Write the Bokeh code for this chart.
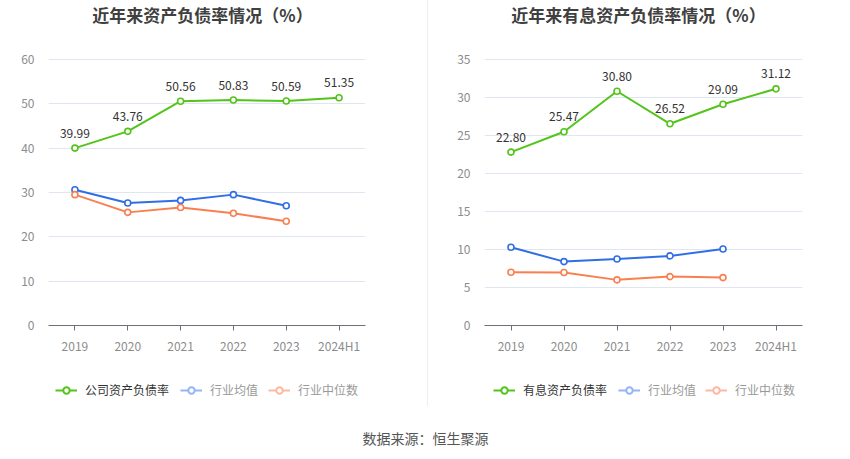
from bokeh.plotting import figure
from bokeh.models import FactorRange, Range1d, FixedTicker, Legend, LegendItem, Label
from bokeh.layouts import row, column
from bokeh.core.properties import value
from bokeh.embed import file_html
from bokeh.resources import INLINE

years = ["2019", "2020", "2021", "2022", "2023", "2024H1"]
ind_years = ["2019", "2020", "2021", "2022", "2023"]

debt_ratio = [39.99, 43.76, 50.56, 50.83, 50.59, 51.35]
debt_ind_mean = [30.6, 27.6, 28.2, 29.5, 27.0]
debt_ind_median = [29.5, 25.5, 26.6, 25.3, 23.5]

int_ratio = [22.80, 25.47, 30.80, 26.52, 29.09, 31.12]
int_ind_mean = [10.28, 8.4, 8.75, 9.15, 10.05]
int_ind_median = [7.0, 6.96, 6.0, 6.43, 6.3]

left_ticks = [0, 10, 20, 30, 40, 50, 60]
right_ticks = [0, 5, 10, 15, 20, 25, 30, 35]

left_title = "近年来资产负债率情况（%）"
right_title = "近年来有息资产负债率情况（%）"
left_series = ["公司资产负债率", "行业均值", "行业中位数"]
right_series = ["有息资产负债率", "行业均值", "行业中位数"]
source_text = "数据来源：恒生聚源"

FONT = "Noto Sans CJK SC"
GREEN = "#52c41a"
BLUE = "#2f6ee6"
ORANGE = "#fa7f50"
BLUE_L = "#93b5f6"
ORANGE_L = "#fcb8a0"
GRID = "#e0e6f1"
AXIS = "#6e7079"
TICKC = "#8c8c8c"
SEP = "#eeeeee"
NAN = float("nan")


def make_fig(title, main_vals, mean_vals, med_vals, ymax, ticks,
             border_left, border_right, styles=None):
    p = figure(width=425, height=356, x_range=FactorRange(*years, range_padding=0),
               y_range=Range1d(0, ymax * 326 / 267), output_backend="svg",
               toolbar_location=None,
               min_border_left=border_left, min_border_right=border_right,
               min_border_top=0, min_border_bottom=30)
    p.outline_line_color = None
    if styles:
        p.border_fill_color = None
        p.styles = styles
    p.xgrid.grid_line_color = None
    p.ygrid.grid_line_color = GRID
    p.ygrid.grid_line_width = 1
    p.yaxis.ticker = FixedTicker(ticks=ticks)
    p.yaxis.axis_line_color = None
    p.yaxis.major_tick_line_color = None
    p.yaxis.minor_tick_line_color = None
    p.yaxis.major_label_standoff = 8
    p.yaxis.major_label_text_color = TICKC
    p.yaxis.major_label_text_font = FONT
    p.yaxis.major_label_text_font_size = "12px"
    p.xaxis.axis_line_color = AXIS
    p.xaxis.major_tick_line_color = AXIS
    p.xaxis.major_tick_out = 5
    p.xaxis.major_tick_in = 0
    p.xaxis.minor_tick_line_color = None
    p.xaxis.major_label_standoff = 6
    p.xaxis.major_label_text_color = TICKC
    p.xaxis.major_label_text_font = FONT
    p.xaxis.major_label_text_font_size = "12px"

    p.line(ind_years, mean_vals, line_color=BLUE, line_width=2)
    p.scatter(ind_years, mean_vals, size=6, fill_color="white", line_color=BLUE, line_width=1.6)
    p.line(ind_years, med_vals, line_color=ORANGE, line_width=2)
    p.scatter(ind_years, med_vals, size=6, fill_color="white", line_color=ORANGE, line_width=1.6)
    p.line(years, main_vals, line_color=GREEN, line_width=2)
    p.scatter(years, main_vals, size=6, fill_color="white", line_color=GREEN, line_width=1.6)
    p.text(years, main_vals, text=["%.2f" % v for v in main_vals], text_align="center",
           text_baseline="middle", y_offset=-15, text_font=value(FONT),
           text_font_size="12px", text_color="#333333")

    p.add_layout(Label(x=154, y=311.5, x_units="screen", y_units="screen", text=title,
                       text_align="center", text_baseline="middle", text_font=FONT,
                       text_font_size="17px", text_font_style="bold", text_color="#404040"))
    return p


f1 = make_fig(left_title, debt_ratio, debt_ind_mean, debt_ind_median, 60, left_ticks, 48, 60)
f2 = make_fig(right_title, int_ratio, int_ind_mean, int_ind_median, 35, right_ticks, 59, 48,
              styles={"background": "linear-gradient(to right, transparent 2px, %s 2px, %s 3px, transparent 3px)" % (SEP, SEP)})

# bottom strip: legends and source
lf = figure(width=850, height=103, output_backend="svg", toolbar_location=None,
            x_range=Range1d(0, 850), y_range=Range1d(0, 103),
            min_border=0, min_border_left=0, min_border_right=0,
            min_border_top=0, min_border_bottom=0)
lf.axis.visible = False
lf.grid.visible = False
lf.outline_line_color = None
lf.border_fill_color = None
lf.background_fill_color = None
lf.styles = {"background": "linear-gradient(to right, transparent 427px, %s 427px, %s 428px, transparent 428px) top left / 100%% 50px no-repeat" % (SEP, SEP)}

legend_x = [[55, 180, 268], [493, 618, 705]]
for names, xs in zip([left_series, right_series], legend_x):
    styles = [(GREEN, "#333333"), (BLUE_L, "#999999"), (ORANGE_L, "#999999")]
    for name, (col, tc), lx in zip(names, styles, xs):
        r1 = lf.line([NAN], [NAN], line_color=col, line_width=2)
        r2 = lf.scatter([NAN], [NAN], size=10, fill_color="white", line_color=col, line_width=2)
        leg = Legend(items=[LegendItem(label=name, renderers=[r1, r2])],
                     location=(lx, 61), orientation="horizontal",
                     glyph_width=22, glyph_height=16, label_height=16,
                     label_standoff=8, padding=0, margin=0, spacing=0,
                     border_line_color=None, background_fill_color=None,
                     label_text_font=FONT, label_text_font_size="12px",
                     label_text_color=tc)
        lf.add_layout(leg, "center")

lf.add_layout(Label(x=425, y=22, x_units="screen", y_units="screen", text=source_text,
                    text_align="center", text_baseline="middle", text_font=FONT,
                    text_font_size="14px", text_color="#555555"))

layout = column(row(f1, f2), lf)
open("out.html", "w").write(file_html(layout, INLINE))
